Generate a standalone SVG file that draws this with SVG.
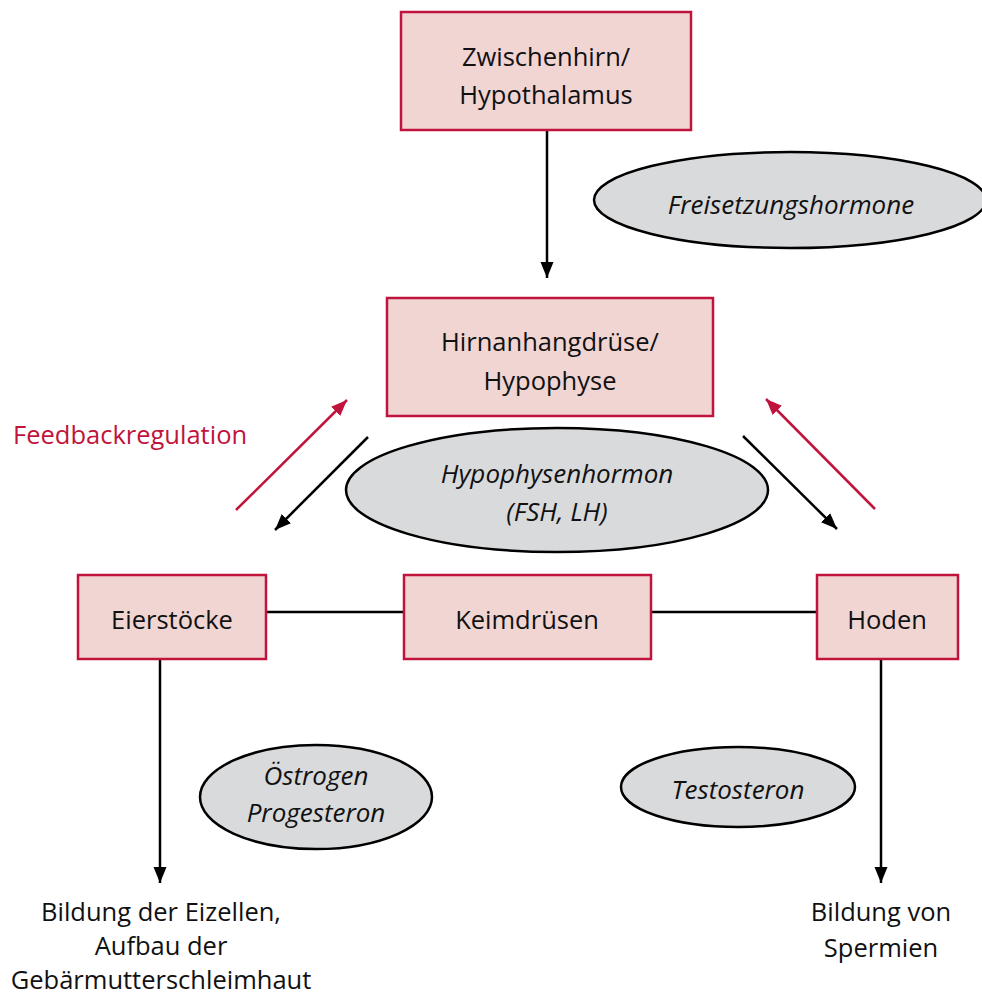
<svg xmlns="http://www.w3.org/2000/svg" width="982" height="997" viewBox="0 0 982 997">
<style>
.box{fill:#f0d5d3;stroke:#c0143c;stroke-width:2.5}
.ell{fill:#d9dadc;stroke:#000;stroke-width:2.5}
.t{font-family:"Open Sans","Noto Sans",sans-serif;font-size:25.5px;fill:#111;text-anchor:middle}
.i{font-style:italic;font-size:26px}
.red{fill:#c0143c}
.blk{stroke:#000;stroke-width:2.5;fill:none}
.rl{stroke:#c0143c;stroke-width:2.5;fill:none}
</style>
<defs>
<marker id="ab" markerUnits="userSpaceOnUse" markerWidth="18" markerHeight="14" refX="16" refY="7" orient="auto">
<path d="M0,0.5 L16,7 L0,13.5 Z" fill="#000"/>
</marker>
<marker id="ar" markerUnits="userSpaceOnUse" markerWidth="18" markerHeight="14" refX="16" refY="7" orient="auto">
<path d="M0,0.5 L16,7 L0,13.5 Z" fill="#c0143c"/>
</marker>
</defs>
<g id="connectors">
<line class="blk" x1="547" y1="130" x2="547" y2="278" marker-end="url(#ab)"/>
<line class="blk" x1="368" y1="437" x2="275" y2="530" marker-end="url(#ab)"/>
<line class="blk" x1="743" y1="436" x2="837" y2="529" marker-end="url(#ab)"/>
<line class="rl" x1="236" y1="510" x2="347" y2="400" marker-end="url(#ar)"/>
<line class="rl" x1="875" y1="509" x2="766" y2="399" marker-end="url(#ar)"/>
<line class="blk" x1="266" y1="612" x2="404" y2="612"/>
<line class="blk" x1="651" y1="612" x2="817" y2="612"/>
<line class="blk" x1="160" y1="659" x2="160" y2="883" marker-end="url(#ab)"/>
<line class="blk" x1="881" y1="659" x2="881" y2="883" marker-end="url(#ab)"/>
</g>
<g id="hypothalamus">
<rect class="box" x="401" y="12" width="290" height="118"/>
<text class="t" x="546" y="66">Zwischenhirn/</text>
<text class="t" x="546" y="104">Hypothalamus</text>
</g>
<g id="freisetzungshormone">
<ellipse class="ell" cx="790" cy="200" rx="196" ry="48"/>
<text class="t i" x="791" y="214">Freisetzungshormone</text>
</g>
<g id="hypophyse">
<rect class="box" x="387" y="298" width="326" height="118"/>
<text class="t" x="550" y="351">Hirnanhangdrüse/</text>
<text class="t" x="550" y="390">Hypophyse</text>
</g>
<g id="feedback">
<text class="t red" x="13" y="444" style="text-anchor:start">Feedbackregulation</text>
</g>
<g id="hypophysenhormon">
<ellipse class="ell" cx="557" cy="490" rx="211" ry="62"/>
<text class="t i" x="557" y="483">Hypophysenhormon</text>
<text class="t i" x="557" y="521">(FSH, LH)</text>
</g>
<g id="eierstoecke">
<rect class="box" x="78" y="575" width="188" height="84"/>
<text class="t" x="172" y="629">Eierstöcke</text>
</g>
<g id="keimdruesen">
<rect class="box" x="404" y="575" width="247" height="84"/>
<text class="t" x="527" y="629">Keimdrüsen</text>
</g>
<g id="hoden">
<rect class="box" x="817" y="575" width="141" height="84"/>
<text class="t" x="887" y="629">Hoden</text>
</g>
<g id="oestrogen">
<ellipse class="ell" cx="316" cy="797" rx="116" ry="52"/>
<text class="t i" x="316" y="785">Östrogen</text>
<text class="t i" x="316" y="822">Progesteron</text>
</g>
<g id="testosteron">
<ellipse class="ell" cx="738" cy="787" rx="117" ry="40"/>
<text class="t i" x="738" y="799">Testosteron</text>
</g>
<g id="eizellen">
<text class="t" x="161" y="921">Bildung der Eizellen,</text>
<text class="t" x="161" y="955">Aufbau der</text>
<text class="t" x="161" y="989">Gebärmutterschleimhaut</text>
</g>
<g id="spermien">
<text class="t" x="881" y="921">Bildung von</text>
<text class="t" x="881" y="957">Spermien</text>
</g>
</svg>
